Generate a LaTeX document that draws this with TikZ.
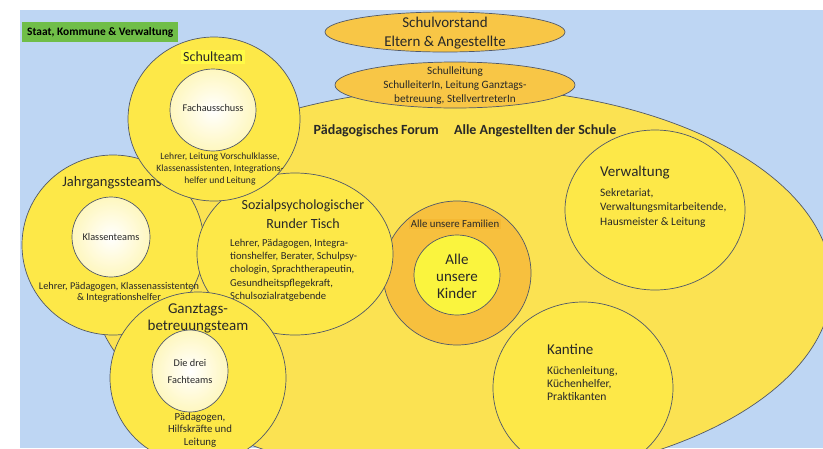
\documentclass[tikz,border=0pt]{standalone}
\usepackage{fontspec}
\setmainfont{Carlito}
\definecolor{bgblue}{RGB}{190,214,243}
\definecolor{forumyellow}{RGB}{251,226,82}
\definecolor{teamyellow}{RGB}{253,232,72}
\definecolor{kindyellow}{RGB}{250,244,62}
\definecolor{famorange}{RGB}{247,192,62}
\definecolor{labelorange}{RGB}{244,184,52}
\definecolor{boardorange}{RGB}{248,198,70}
\definecolor{stategreen}{RGB}{112,190,72}
\definecolor{labelyellow}{RGB}{255,250,70}
\definecolor{rimgray}{RGB}{80,88,105}
\definecolor{inkgray}{RGB}{40,40,40}
\begin{document}
\begin{tikzpicture}[x=1pt,y=-1pt,
	bubble/.style={fill=teamyellow,draw=rimgray,line width=0.7pt},
	core/.style={draw=rimgray,line width=0.7pt,inner color=white,outer color=teamyellow!35!white},
	small/.style={text=inkgray,align=center,inner sep=0pt,font=\fontsize{10.3}{12}\selectfont},
	title/.style={text=inkgray,align=center,inner sep=0pt,font=\fontsize{15}{17}\selectfont}]
		\useasboundingbox (0,0) rectangle (823,448);
		\fill[bgblue] (20,10) rectangle (823,448);
		% state and board
		\node[fill=stategreen,anchor=west,inner xsep=5pt,minimum height=20pt,font=\fontsize{11.4}{13}\selectfont\bfseries] (state) at (22,32) {Staat, Kommune \& Verwaltung};
		\draw[fill=boardorange,draw=rimgray,line width=0.7pt] (445,32) ellipse [x radius=120,y radius=20];
		\node[title] (vorstand) at (445,33) {Schulvorstand\\[2pt]Eltern \& Angestellte};
		% forum
		\draw[fill=forumyellow,draw=rimgray,line width=0.7pt] (462,284) ellipse [x radius=370,y radius=196];
		\draw[fill=boardorange,draw=rimgray,line width=0.7pt] (455,85) ellipse [x radius=120,y radius=23];
		\node[small,font=\fontsize{11.2}{14}\selectfont] (leitung) at (455,86) {Schulleitung\\SchulleiterIn, Leitung Ganztags-\\betreuung, StellvertreterIn};
		\node[text=inkgray,inner sep=0pt,font=\fontsize{14}{16}\selectfont\bfseries] (forum) at (465,131) {Pädagogisches Forum\hspace{1.1em}Alle Angestellten der Schule};
		% verwaltung and kantine
		\draw[bubble] (655,210) ellipse [x radius=90,y radius=80];
		\node[title,anchor=west] (verw) at (600,173) {Verwaltung};
		\node[small,align=left,anchor=west,font=\fontsize{11.4}{14.5}\selectfont] (verwtext) at (600,208) {Sekretariat,\\Verwaltungsmitarbeitende,\\Hausmeister \& Leitung};
		\draw[bubble] (583,388) ellipse [x radius=90,y radius=86];
		\node[title,anchor=west] (kantine) at (547,349) {Kantine};
		\node[small,align=left,anchor=west,font=\fontsize{11.6}{13}\selectfont] (kantinetext) at (547,384) {Küchenleitung,\\Küchenhelfer,\\Praktikanten};
		% families and children
		\draw[fill=famorange,draw=rimgray,line width=0.7pt] (457,273) ellipse [x radius=74,y radius=72];
		\node[small,fill=labelorange,inner sep=1.5pt,font=\fontsize{10.8}{12}\selectfont] (familien) at (455,224) {Alle unsere Familien};
		\draw[fill=kindyellow,draw=rimgray,line width=0.7pt] (457,275) ellipse [x radius=43,y radius=40];
		\node[title] (kinder) at (457,276) {Alle\\unsere\\Kinder};
		% teams
		\draw[bubble] (113,245) ellipse [x radius=91,y radius=90];
		\node[title,font=\fontsize{14.5}{17}\selectfont] (jahrgang) at (112,183) {Jahrgangssteams};
		\draw[core] (111,237) ellipse [x radius=39,y radius=40];
		\node[small] (klassen) at (111,237) {Klassenteams};
		\node[small,font=\fontsize{10.3}{11}\selectfont] (jahrgangtext) at (119,292) {Lehrer, Pädagogen, Klassenassistenten\\\& Integrationshelfer};
		\draw[bubble] (295,254) ellipse [x radius=98,y radius=81];
		\node[title,font=\fontsize{14}{19}\selectfont] (tisch) at (303,214) {Sozialpsychologischer\\Runder Tisch};
		\node[small,align=left,anchor=west,font=\fontsize{10.6}{13.3}\selectfont] (tischtext) at (230,270) {Lehrer, Pädagogen, Integra-\\tionshelfer, Berater, Schulpsy-\\chologin, Sprachtherapeutin,\\Gesundheitspflegekraft,\\Schulsozialratgebende};
		\draw[bubble] (214,119) ellipse [x radius=86,y radius=82];
		\node[title,font=\fontsize{14}{15}\selectfont,fill=labelyellow,inner sep=2pt] (schulteam) at (213,57) {Schulteam};
		\draw[core] (213,110) ellipse [x radius=43,y radius=41];
		\node[small] (fach) at (213,108) {Fachausschuss};
		\node[small,font=\fontsize{9.6}{12}\selectfont] (schulteamtext) at (220,169) {Lehrer, Leitung Vorschulklasse,\\Klassenassistenten, Integrations-\\helfer und Leitung};
		\draw[bubble] (198,378) ellipse [x radius=88,y radius=86];
		\node[title] (ganztag) at (198,318) {Ganztags-\\betreuungsteam};
		\draw[core] (190,371) ellipse [x radius=38,y radius=41];
		\node[small,font=\fontsize{10.3}{17}\selectfont] (drei) at (190,371) {Die drei\\Fachteams};
		\node[small,font=\fontsize{10.8}{12.5}\selectfont] (ganztagtext) at (200,430) {Pädagogen,\\Hilfskräfte und\\Leitung};
\end{tikzpicture}
\end{document}
